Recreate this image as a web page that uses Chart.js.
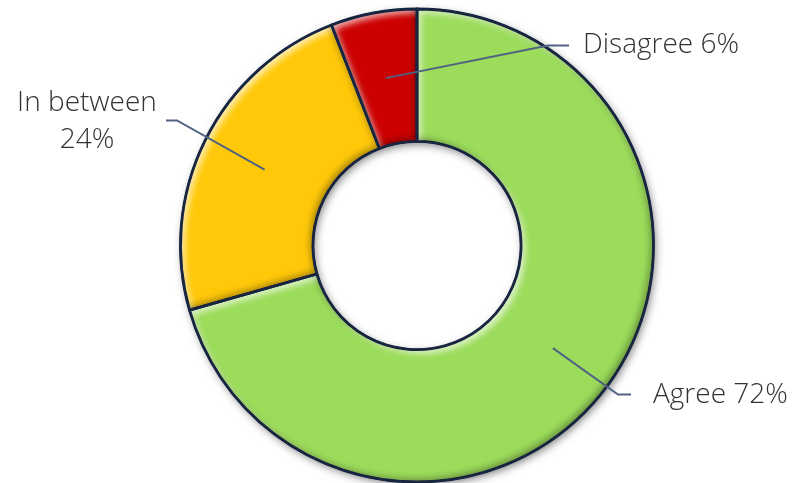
<!DOCTYPE html>
<html>
<head>
<meta charset="utf-8">
<script src="https://cdn.jsdelivr.net/npm/chart.js@4/dist/chart.umd.min.js"></script>
<style>
  html, body { margin: 0; padding: 0; background: #fff; }
  #wrap { width: 794px; height: 483px; position: relative; }
</style>
</head>
<body>
<div id="wrap"><canvas id="pie"></canvas></div>
<script>
const categories = ["Agree", "In between", "Disagree"];
const values = [72, 24, 6];
const labelText = [["Agree 72%"], ["In between", "24%"], ["Disagree 6%"]];
const sliceColors = ["#9cdc5b", "#ffc90a", "#cc0000"];

const borderColor = "#182540";
const leaderColor = "#4f6282";

// where each callout sits, relative to the doughnut centre
const callouts = [
  { elbow: [201, 149], end: [214, 149], text: [236, 150], align: "left" },
  { elbow: [-240, -125], end: [-251, -125], text: [-330, -142], align: "center" },
  { elbow: [131, -200], end: [152, -200], text: [166, -200], align: "left" }
];

function arcPath(ctx, el) {
  ctx.moveTo(el.x + el.outerRadius * Math.cos(el.startAngle), el.y + el.outerRadius * Math.sin(el.startAngle));
  ctx.arc(el.x, el.y, el.outerRadius, el.startAngle, el.endAngle);
  ctx.arc(el.x, el.y, el.innerRadius, el.endAngle, el.startAngle, true);
  ctx.closePath();
}

function innerShadow(ctx, el, color, dx, dy, blur) {
  ctx.save();
  ctx.beginPath();
  arcPath(ctx, el);
  ctx.clip();
  ctx.beginPath();
  ctx.rect(-2000, -2000, 5000, 5000);
  arcPath(ctx, el);
  ctx.shadowColor = color;
  ctx.shadowBlur = blur;
  ctx.shadowOffsetX = dx;
  ctx.shadowOffsetY = dy;
  ctx.fillStyle = "#000";
  ctx.fill("evenodd");
  ctx.restore();
}

// soft drop shadow under the whole ring
const ringShadow = {
  id: "ringShadow",
  beforeDatasetsDraw(chart) {
    const el = chart.getDatasetMeta(0).data[0];
    if (!el) return;
    const ctx = chart.ctx;
    ctx.save();
    ctx.beginPath();
    ctx.arc(el.x, el.y, el.outerRadius, 0, Math.PI * 2);
    ctx.moveTo(el.x + el.innerRadius, el.y);
    ctx.arc(el.x, el.y, el.innerRadius, Math.PI * 2, 0, true);
    ctx.shadowColor = "rgba(0,0,0,0.5)";
    ctx.shadowBlur = 9;
    ctx.shadowOffsetX = 2;
    ctx.shadowOffsetY = 3;
    ctx.fillStyle = "#fff";
    ctx.fill("evenodd");
    ctx.restore();
  }
};

// bevel look on each slice, then the dark outline again
const bevel = {
  id: "bevel",
  afterDatasetsDraw(chart) {
    const ctx = chart.ctx;
    chart.getDatasetMeta(0).data.forEach(el => {
      innerShadow(ctx, el, "rgba(255,255,255,0.7)", 4, 4, 6);
      innerShadow(ctx, el, "rgba(0,0,0,0.35)", -3, -3, 7);
      ctx.save();
      ctx.beginPath();
      arcPath(ctx, el);
      ctx.lineWidth = 2.8;
      ctx.lineJoin = "round";
      ctx.strokeStyle = borderColor;
      ctx.stroke();
      ctx.restore();
    });
  }
};

const callout = {
  id: "callout",
  afterDraw(chart) {
    const ctx = chart.ctx;
    const meta = chart.getDatasetMeta(0);
    meta.data.forEach((el, i) => {
      const c = callouts[i];
      const start = el.tooltipPosition();
      const cx = el.x, cy = el.y;
      ctx.save();
      ctx.strokeStyle = leaderColor;
      ctx.lineWidth = 2;
      ctx.beginPath();
      ctx.moveTo(start.x, start.y);
      ctx.lineTo(cx + c.elbow[0], cy + c.elbow[1]);
      ctx.lineTo(cx + c.end[0], cy + c.end[1]);
      ctx.stroke();

      ctx.fillStyle = "#333333";
      ctx.font = "300 28px 'Open Sans'";
      ctx.textAlign = c.align;
      ctx.textBaseline = "middle";
      labelText[i].forEach((line, k) => {
        ctx.fillText(line, cx + c.text[0], cy + c.text[1] + k * 37);
      });
      ctx.restore();
    });
  }
};

new Chart(document.getElementById("pie"), {
  type: "doughnut",
  data: {
    labels: categories,
    datasets: [{
      data: values,
      backgroundColor: sliceColors,
      borderColor: borderColor,
      borderWidth: 2
    }]
  },
  options: {
    responsive: true,
    maintainAspectRatio: false,
    animation: false,
    cutout: "44%",
    layout: { padding: { top: 8, bottom: 0, left: 40, right: 0 } },
    plugins: {
      legend: { display: false },
      tooltip: { enabled: false }
    }
  },
  plugins: [ringShadow, bevel, callout]
});
</script>
</body>
</html>
